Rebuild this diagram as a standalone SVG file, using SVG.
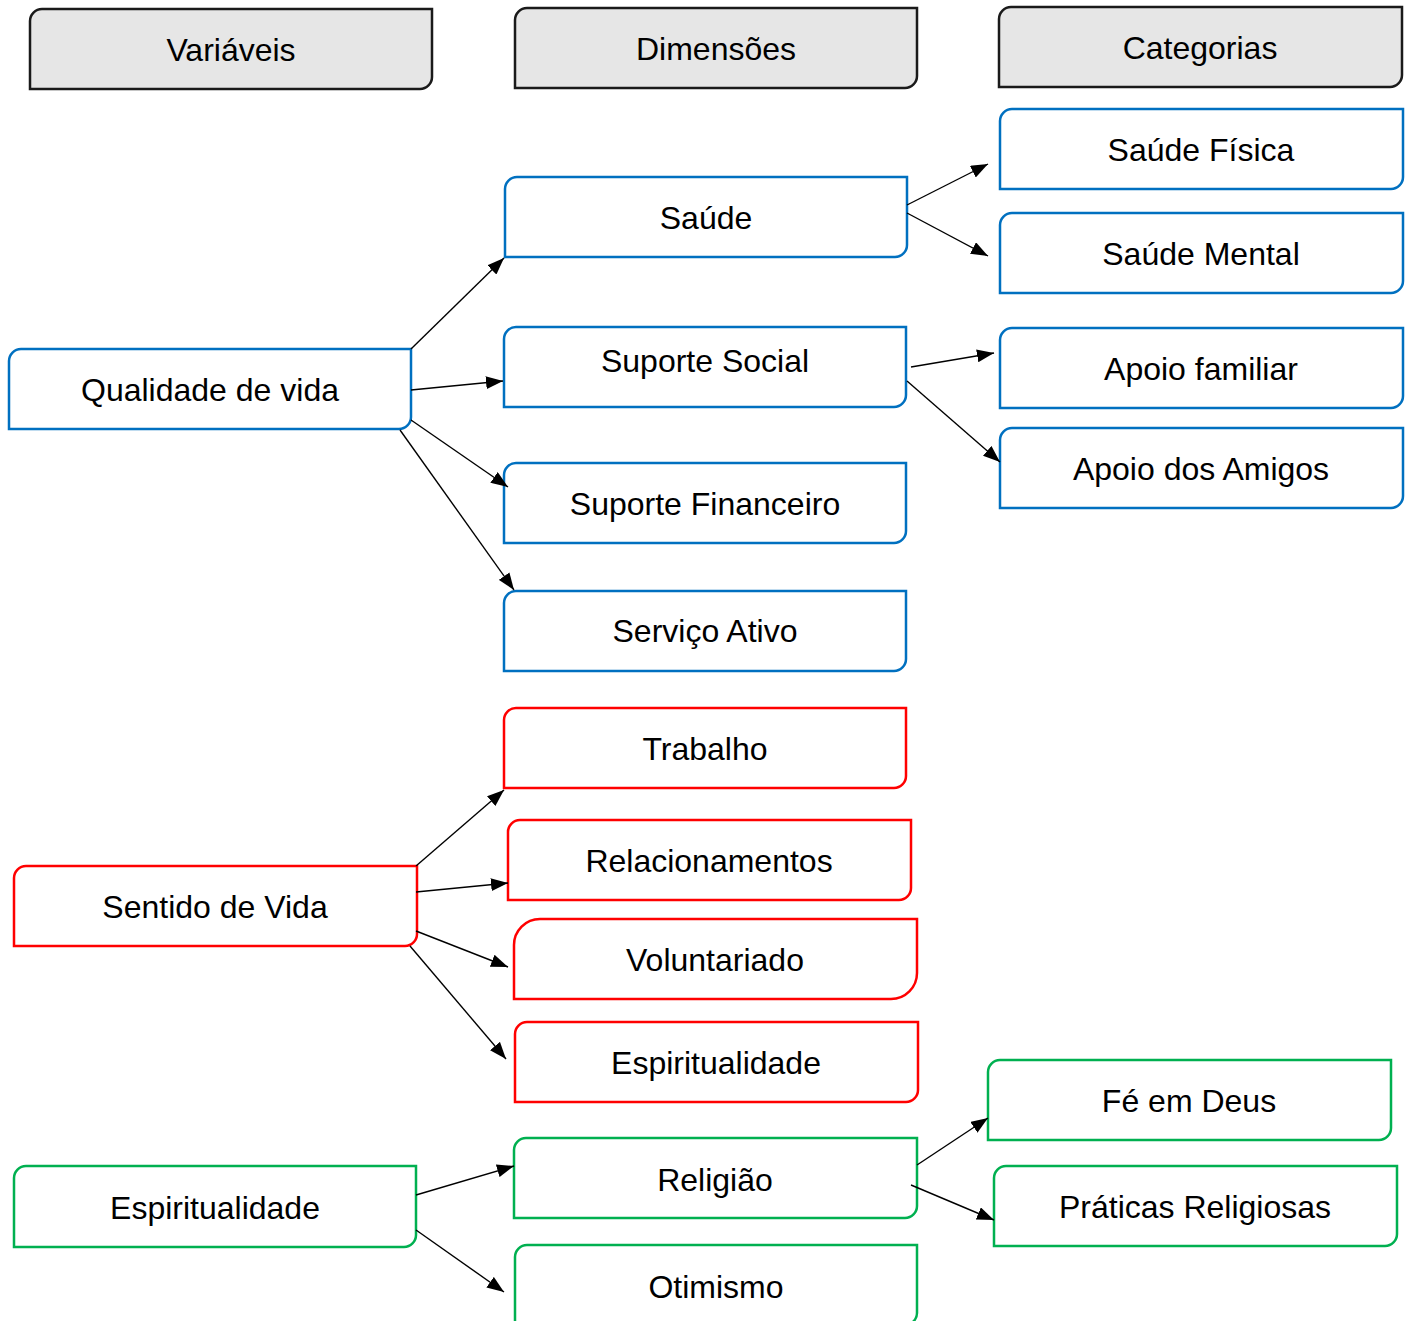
<svg xmlns="http://www.w3.org/2000/svg" width="1410" height="1321" viewBox="0 0 1410 1321">
<style>
.b{fill:#fff;stroke-width:2.5}
.hd{fill:#e6e6e6;stroke:#1a1a1a}
.bl{stroke:#0070c0}
.rd{stroke:#ff0000}
.gr{stroke:#00b050}
text{font-family:"Liberation Sans",Arial,sans-serif;font-size:32px;fill:#000;text-anchor:middle}
.c line{stroke:#000;stroke-width:1.4;marker-end:url(#ah)}
</style>
<defs>
<marker id="ah" viewBox="0 0 17 13" refX="17" refY="6.5" markerWidth="17" markerHeight="13" markerUnits="userSpaceOnUse" orient="auto">
<path d="M0,0 L17,6.5 L0,13 Z" fill="#000"/>
</marker>
</defs>
<rect width="1410" height="1321" fill="#fff"/>
<g id="h-variaveis"><path class="b hd" d="M30,21 A12,12 0 0 1 42,9 H432 V77 A12,12 0 0 1 420,89 H30 Z"/><text x="231" y="61">Variáveis</text></g>
<g id="h-dimensoes"><path class="b hd" d="M515,20 A12,12 0 0 1 527,8 H917 V76 A12,12 0 0 1 905,88 H515 Z"/><text x="716" y="60">Dimensões</text></g>
<g id="h-categorias"><path class="b hd" d="M999,19 A12,12 0 0 1 1011,7 H1402 V75 A12,12 0 0 1 1390,87 H999 Z"/><text x="1200" y="59">Categorias</text></g>

<g id="saude-fisica"><path class="b bl" d="M1000,121 A12,12 0 0 1 1012,109 H1403 V177 A12,12 0 0 1 1391,189 H1000 Z"/><text x="1201" y="161">Saúde Física</text></g>
<g id="saude-mental"><path class="b bl" d="M1000,225 A12,12 0 0 1 1012,213 H1403 V281 A12,12 0 0 1 1391,293 H1000 Z"/><text x="1201" y="265">Saúde Mental</text></g>
<g id="saude"><path class="b bl" d="M505,189 A12,12 0 0 1 517,177 H907 V245 A12,12 0 0 1 895,257 H505 Z"/><text x="706" y="229">Saúde</text></g>
<g id="qualidade"><path class="b bl" d="M9,361 A12,12 0 0 1 21,349 H411 V417 A12,12 0 0 1 399,429 H9 Z"/><text x="210" y="401">Qualidade de vida</text></g>
<g id="suporte-social"><path class="b bl" d="M504,339 A12,12 0 0 1 516,327 H906 V395 A12,12 0 0 1 894,407 H504 Z"/><text x="705" y="372">Suporte Social</text></g>
<g id="apoio-familiar"><path class="b bl" d="M1000,340 A12,12 0 0 1 1012,328 H1403 V396 A12,12 0 0 1 1391,408 H1000 Z"/><text x="1201" y="380">Apoio familiar</text></g>
<g id="apoio-amigos"><path class="b bl" d="M1000,440 A12,12 0 0 1 1012,428 H1403 V496 A12,12 0 0 1 1391,508 H1000 Z"/><text x="1201" y="480">Apoio dos Amigos</text></g>
<g id="suporte-financeiro"><path class="b bl" d="M504,475 A12,12 0 0 1 516,463 H906 V531 A12,12 0 0 1 894,543 H504 Z"/><text x="705" y="515">Suporte Financeiro</text></g>
<g id="servico-ativo"><path class="b bl" d="M504,603 A12,12 0 0 1 516,591 H906 V659 A12,12 0 0 1 894,671 H504 Z"/><text x="705" y="642">Serviço Ativo</text></g>

<g id="trabalho"><path class="b rd" d="M504,720 A12,12 0 0 1 516,708 H906 V776 A12,12 0 0 1 894,788 H504 Z"/><text x="705" y="760">Trabalho</text></g>
<g id="relacionamentos"><path class="b rd" d="M508,832 A12,12 0 0 1 520,820 H911 V888 A12,12 0 0 1 899,900 H508 Z"/><text x="709" y="872">Relacionamentos</text></g>
<g id="voluntariado"><path class="b rd" d="M514,945 A26,26 0 0 1 540,919 H917 V973 A26,26 0 0 1 891,999 H514 Z"/><text x="715" y="971">Voluntariado</text></g>
<g id="espiritualidade-d"><path class="b rd" d="M515,1034 A12,12 0 0 1 527,1022 H918 V1090 A12,12 0 0 1 906,1102 H515 Z"/><text x="716" y="1074">Espiritualidade</text></g>
<g id="sentido"><path class="b rd" d="M14,878 A12,12 0 0 1 26,866 H417 V934 A12,12 0 0 1 405,946 H14 Z"/><text x="215" y="918">Sentido de Vida</text></g>

<g id="espiritualidade-v"><path class="b gr" d="M14,1178 A12,12 0 0 1 26,1166 H416 V1235 A12,12 0 0 1 404,1247 H14 Z"/><text x="215" y="1219">Espiritualidade</text></g>
<g id="religiao"><path class="b gr" d="M514,1150 A12,12 0 0 1 526,1138 H917 V1206 A12,12 0 0 1 905,1218 H514 Z"/><text x="715" y="1191">Religião</text></g>
<g id="otimismo"><path class="b gr" d="M515,1257 A12,12 0 0 1 527,1245 H917 V1313 A12,12 0 0 1 905,1325 H515 Z"/><text x="716" y="1298">Otimismo</text></g>
<g id="fe-deus"><path class="b gr" d="M988,1072 A12,12 0 0 1 1000,1060 H1391 V1128 A12,12 0 0 1 1379,1140 H988 Z"/><text x="1189" y="1112">Fé em Deus</text></g>
<g id="praticas"><path class="b gr" d="M994,1178 A12,12 0 0 1 1006,1166 H1397 V1234 A12,12 0 0 1 1385,1246 H994 Z"/><text x="1195" y="1218">Práticas Religiosas</text></g>

<g id="connectors" class="c">
<line x1="411" y1="349" x2="504" y2="258"/>
<line x1="411" y1="390" x2="503" y2="381"/>
<line x1="411" y1="420" x2="508" y2="487"/>
<line x1="400" y1="430" x2="514" y2="590"/>
<line x1="907" y1="205" x2="988" y2="164"/>
<line x1="907" y1="213" x2="988" y2="256"/>
<line x1="911" y1="367" x2="994" y2="353"/>
<line x1="907" y1="381" x2="1000" y2="462"/>
<line x1="416" y1="866" x2="504" y2="790"/>
<line x1="416" y1="892" x2="508" y2="883"/>
<line x1="416" y1="931" x2="508" y2="967"/>
<line x1="410" y1="946" x2="506" y2="1059"/>
<line x1="416" y1="1195" x2="514" y2="1166"/>
<line x1="416" y1="1230" x2="504" y2="1292"/>
<line x1="917" y1="1165" x2="988" y2="1118"/>
<line x1="911" y1="1185" x2="994" y2="1220"/>
</g>
</svg>
